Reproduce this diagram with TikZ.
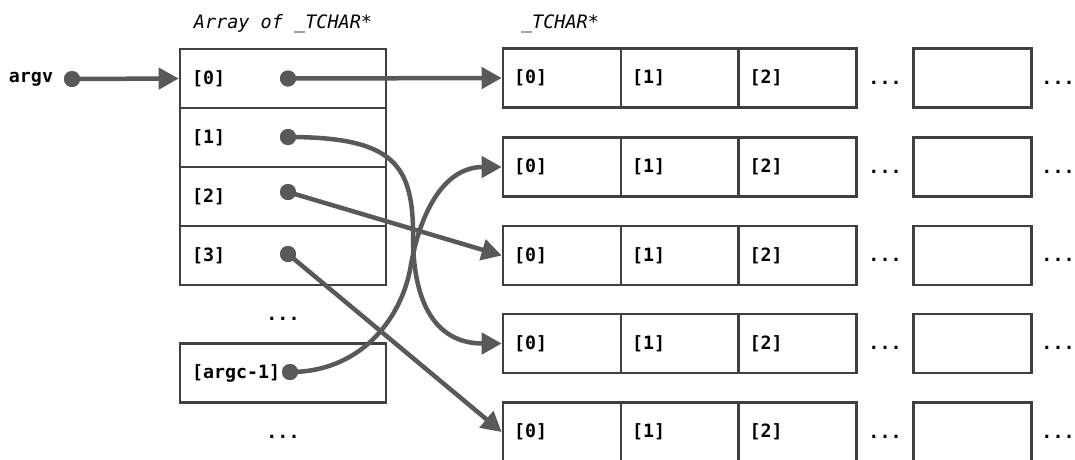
\documentclass[tikz,border=0pt]{standalone}
\usepackage{fontspec}
\setmonofont{DejaVu Sans Mono}
\usetikzlibrary{arrows.meta}

\definecolor{wire}{HTML}{595959}
\definecolor{frame}{HTML}{404040}

\tikzset{
  x=1pt, y=-1pt,
  txt/.style={font=\ttfamily\bfseries\fontsize{18.3}{20}\selectfont, text=black},
  ttl/.style={font=\ttfamily\itshape\fontsize{18.5}{20}\selectfont, text=black},
  lcell/.style={draw=frame, line width=2.6pt, minimum height=59pt,
    text width=182pt, inner xsep=12pt, inner ysep=0pt, align=left, txt},
  rcell/.style={draw=frame, line width=2.6pt, minimum height=59pt,
    text width=96pt, inner xsep=11pt, inner ysep=0pt, align=left, txt},
  blank/.style={draw=frame, line width=2.6pt, minimum height=59pt,
    minimum width=118pt, inner sep=0pt},
  dot/.style={circle, fill=wire, minimum size=16pt, inner sep=0pt},
  ell/.style={txt, anchor=base, inner sep=0pt},
  ptr/.style={draw=wire, line width=4.5pt,
    -{Triangle[length=20pt,width=21pt]}},
}

\begin{document}
\begin{tikzpicture}
\useasboundingbox (0,0) rectangle (1075,459);
\clip (0,0) rectangle (1075,459);

% headings
\node[ttl] (hArr) at (283,24) {Array of \_TCHAR*};
\node[ttl] (hStr) at (560,24) {\_TCHAR*};

% argv variable
\node[txt] (argv) at (31,79) {argv};
\node[dot] (dArgv) at (72,79) {};

% array of pointers
\node[lcell] (L0) at (283,78.5) {[0]};
\node[lcell] (L1) at (283,137.5) {[1]};
\node[lcell] (L2) at (283,196.5) {[2]};
\node[lcell] (L3) at (283,255.5) {[3]};
\node[ell] (Lmid) at (283,320) {...};
\node[lcell] (Ln) at (283,373) {[argc-1]};
\node[ell] (Lend) at (283,438) {...};

% pointer dots inside the array
\node[dot] (d0) at (288,78.5) {};
\node[dot] (d1) at (288,137) {};
\node[dot] (d2) at (288,192) {};
\node[dot] (d3) at (288,254) {};
\node[dot] (dn) at (290,372) {};

% character strings
\foreach \r/\yc in {1/78, 2/167, 3/255.5, 4/343.5, 5/432} {
  \node[rcell] (R\r c0) at (562,\yc) {[0]};
  \node[rcell] (R\r c1) at (680,\yc) {[1]};
  \node[rcell] (R\r c2) at (797.5,\yc) {[2]};
  \node[ell] (R\r e1) at (885,\yc+6) {...};
  \node[blank] (R\r c3) at (972.5,\yc) {};
  \node[ell] (R\r e2) at (1058,\yc+6) {...};
}

% waypoints of the two curved pointers
\coordinate (w1) at (413,240);
\coordinate (wn) at (410,270);

% pointers
\draw[ptr] (dArgv.center) -- (L0.west);
\draw[ptr] (d0.center) -- (R1c0.west);
\draw[ptr] (d1.center) .. controls (395,137) and (414,165) .. (w1)
  .. controls (414,310) and (440,343.5) .. (R4c0.west);
\draw[ptr] (d2.center) -- (R3c0.west);
\draw[ptr] (d3.center) -- (R5c0.west);
\draw[ptr] (dn.center) .. controls (360,372) and (400,320) .. (wn)
  .. controls (420,210) and (445,167) .. (R2c0.west);

% dots drawn over the line ends
\foreach \d in {dArgv,d0,d1,d2,d3,dn} \fill[wire] (\d) circle (8pt);
\end{tikzpicture}
\end{document}
